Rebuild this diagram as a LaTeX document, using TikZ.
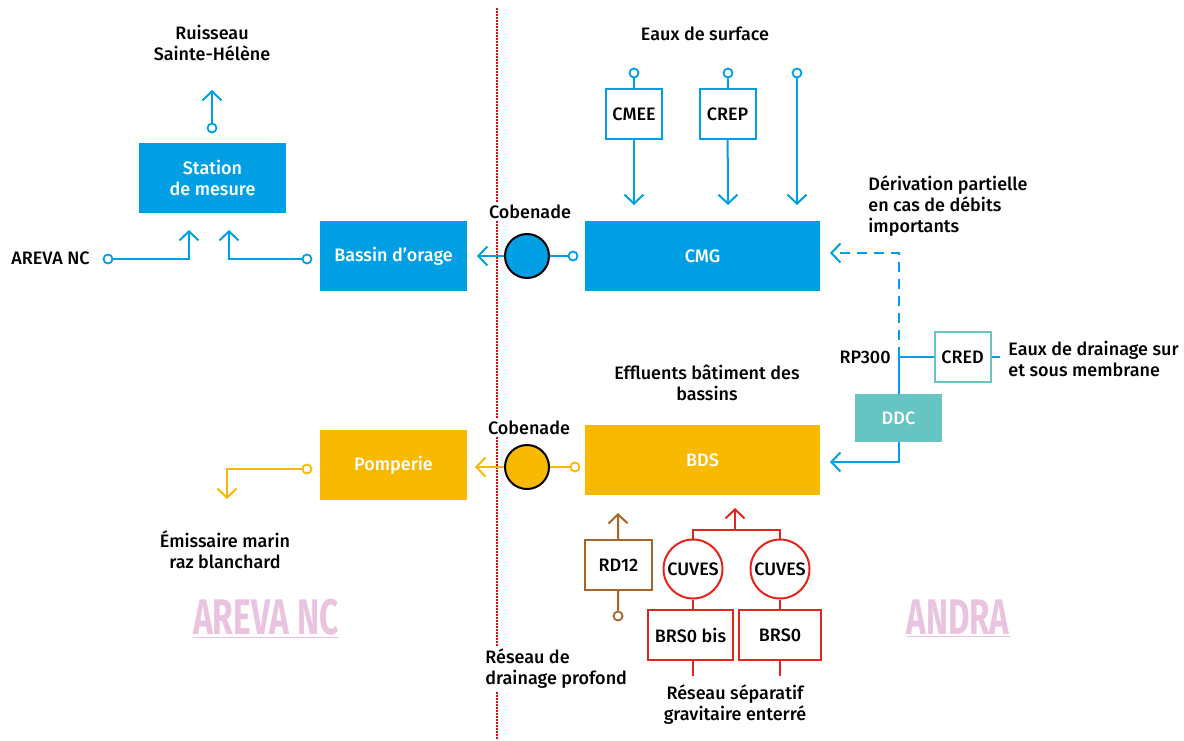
\documentclass[tikz,border=0pt]{standalone}
\usepackage{fontspec}
\setmainfont{Fira Sans Medium}[BoldFont={Fira Sans Bold}]
\usetikzlibrary{arrows.meta,positioning}
\definecolor{cblue}{HTML}{009FE3}
\definecolor{cyell}{HTML}{F9B900}
\definecolor{cteal}{HTML}{66C4C2}
\definecolor{cred}{HTML}{E3241B}
\definecolor{cbrown}{HTML}{A8642B}
\definecolor{cpink}{HTML}{E9C3DF}
\definecolor{cdot}{HTML}{E30613}
\tikzset{
  fillbox/.style = {fill=#1, text=white, align=center, minimum width=73.5pt,
                    minimum height=35pt, inner sep=2pt},
  linebox/.style = {draw=#1, line width=1pt, fill=white, align=center,
                    minimum width=28pt, minimum height=25pt, inner sep=2pt},
  cobe/.style    = {draw=black, line width=1pt, fill=#1, circle,
                    minimum size=22pt, inner sep=0pt},
  pin/.style     = {draw=#1, line width=0.9pt, fill=white, circle,
                    minimum size=4.5pt, inner sep=0pt},
  lbl/.style     = {align=center, inner sep=1pt},
  wmark/.style   = {text=cpink, font=\fontsize{25}{25}\bfseries, inner sep=0pt},
  pipe/.style    = {line width=1pt, draw=#1},
  flow/.style    = {pipe=#1, -{Straight Barb[length=4.5pt,width=9.5pt,line width=1pt]}},
}
\begin{document}
\begin{tikzpicture}[x=0.5pt,y=-0.5pt,font=\fontsize{9}{10.5}\selectfont]
\useasboundingbox (0,0) rectangle (1184,740);
% frontier
\draw[cdot, line width=1pt, dash pattern=on 0.8pt off 0.7pt] (497,8) -- (497,740);
% left side, AREVA NC
\node[fillbox=cblue] (stat) at (212.5,178) {Station\\de mesure};
\node[fillbox=cblue] (bass) at (393.5,256) {Bassin d’orage};
\node[fillbox=cyell] (pomp) at (393.5,465) {Pomperie};
\node[lbl] (ruis) at (212,43) {Ruisseau\\Sainte-Hélène};
\node[lbl, anchor=east] (arlb) at (92,258) {AREVA NC};
\node[lbl] (emis) at (225,550) {Émissaire marin\\raz blanchard};
\node[pin=cblue] (pSt) at (212,128) {};
\coordinate (tSt) at (212,90);
\node[pin=cblue] (pAr) at (108,259) {};
\coordinate (iAr) at (189,230);
\node[pin=cblue] (pBa) at (307,259) {};
\coordinate (iBa) at (229,230);
\node[pin=cyell] (pPo) at (307,469) {};
\coordinate (tEm) at (227,499);
\draw[flow=cblue] (pSt) -- (tSt);
\draw[flow=cblue] (pAr) -| (iAr);
\draw[flow=cblue] (pBa) -| (iBa);
\draw[flow=cyell] (pPo) -| (tEm);
% cobenades
\node[cobe=cblue] (cobB) at (527,256) {};
\node[cobe=cyell] (cobY) at (527,467) {};
\node[lbl, fill=white] (cbl1) at (530,212) {Cobenade};
\node[lbl, fill=white] (cbl2) at (529,428) {Cobenade};
\node[pin=cblue] (pCm) at (573,256) {};
\node[pin=cyell] (pBd) at (575,467) {};
\coordinate (tBa) at (477,256);
\coordinate (tPo) at (475,467);
\draw[pipe=cblue] (pCm) -- (cobB);
\draw[flow=cblue] (cobB) -- (tBa);
\draw[pipe=cyell] (pBd) -- (cobY);
\draw[flow=cyell] (cobY) -- (tPo);
% right side, ANDRA
\node[fillbox=cblue, minimum width=117.5pt] (cmg) at (702.5,256) {CMG};
\node[fillbox=cyell, minimum width=117.5pt] (bds) at (702.5,460) {BDS};
\node[lbl] (surf) at (705,34) {Eaux de surface};
\node[linebox=cblue] (cmee) at (634,114) {CMEE};
\node[linebox=cblue] (crep) at (727.5,114) {CREP};
\node[pin=cblue] (pCe) at (634,73) {};
\node[pin=cblue] (pCr) at (728,73) {};
\node[pin=cblue] (pSu) at (797,73) {};
\coordinate (tCe) at (634,205);
\coordinate (tCr) at (728,205);
\coordinate (tSu) at (797,205);
\draw[pipe=cblue] (pCe) -- (cmee);
\draw[pipe=cblue] (pCr) -- (crep);
\draw[flow=cblue] (cmee) -- (tCe);
\draw[flow=cblue] (crep) -- (tCr);
\draw[flow=cblue] (pSu) -- (tSu);
% drainage, DDC
\node[lbl, anchor=west, align=left] (deri) at (866,206) {Dérivation partielle\\en cas de débits\\importants};
\node[linebox=cteal] (cred) at (962.5,357) {CRED};
\node[fillbox=cteal, minimum width=43.5pt, minimum height=24pt] (ddc) at (898.5,418) {DDC};
\node[lbl, anchor=east] (rp) at (893,357) {RP300};
\node[lbl, anchor=west, align=left] (drai) at (1006,359) {Eaux de drainage sur\\et sous membrane};
\coordinate (jRp) at (899,357);
\coordinate (tDe) at (830,253);
\coordinate (tDd) at (830,462);
\coordinate (eCr) at (1000,357);
\draw[flow=cblue, dash pattern=on 5pt off 3.5pt] (jRp) |- (tDe);
\draw[pipe=cblue] (jRp) -- (cred);
\draw[pipe=cblue] (cred) -- (eCr);
\draw[pipe=cblue] (ddc.north -| jRp) -- (jRp);
\draw[flow=cblue] (ddc.south -| jRp) |- (tDd);
\node[lbl] (effl) at (707,383) {Effluents bâtiment des\\bassins};
% deep drainage
\node[linebox=cbrown, minimum width=33.5pt] (rd) at (618.5,565) {RD12};
\node[pin=cbrown] (pRd) at (618,616) {};
\coordinate (tRd) at (618,513);
\draw[flow=cbrown] (rd) -- (tRd);
\draw[pipe=cbrown] (rd) -- (pRd);
\node[lbl, anchor=west, align=left, fill=white] (prof) at (483,669) {Réseau de\\drainage profond};
% tanks
\node[circle, draw=cred, line width=1pt, minimum size=29.5pt, inner sep=0pt] (cuv1) at (693,569) {CUVES};
\node[circle, draw=cred, line width=1pt, minimum size=29.5pt, inner sep=0pt] (cuv2) at (780,569) {CUVES};
\node[linebox=cred, minimum width=42.5pt] (brs1) at (690.5,635) {BRS0 bis};
\node[linebox=cred, minimum width=41pt] (brs2) at (780,635) {BRS0};
\coordinate (jCu) at (735,530);
\coordinate (tCu) at (735,508);
\coordinate (eB1) at (693,676);
\coordinate (eB2) at (780,676);
\draw[pipe=cred] (cuv1) |- (jCu) -| (cuv2);
\draw[flow=cred] (jCu) -- (tCu);
\draw[pipe=cred] (cuv1) -- (cuv1 |- brs1.north);
\draw[pipe=cred] (cuv2) -- (brs2);
\draw[pipe=cred] (brs1.south -| eB1) -- (eB1);
\draw[pipe=cred] (brs2) -- (eB2);
\node[lbl] (sepa) at (735,705) {Réseau séparatif\\gravitaire enterré};
% watermarks
\node[wmark] (wmA) at (266,617) {\scalebox{0.67}[1]{AREVA NC}};
\node[wmark] (wmB) at (958,617) {\scalebox{0.66}[1]{ANDRA}};
\draw[cpink, line width=0.5pt] ([yshift=-1pt]wmA.south west) -- ([yshift=-1pt]wmA.south east);
\draw[cpink, line width=0.5pt] ([yshift=-1pt]wmB.south west) -- ([yshift=-1pt]wmB.south east);
\end{tikzpicture}
\end{document}
